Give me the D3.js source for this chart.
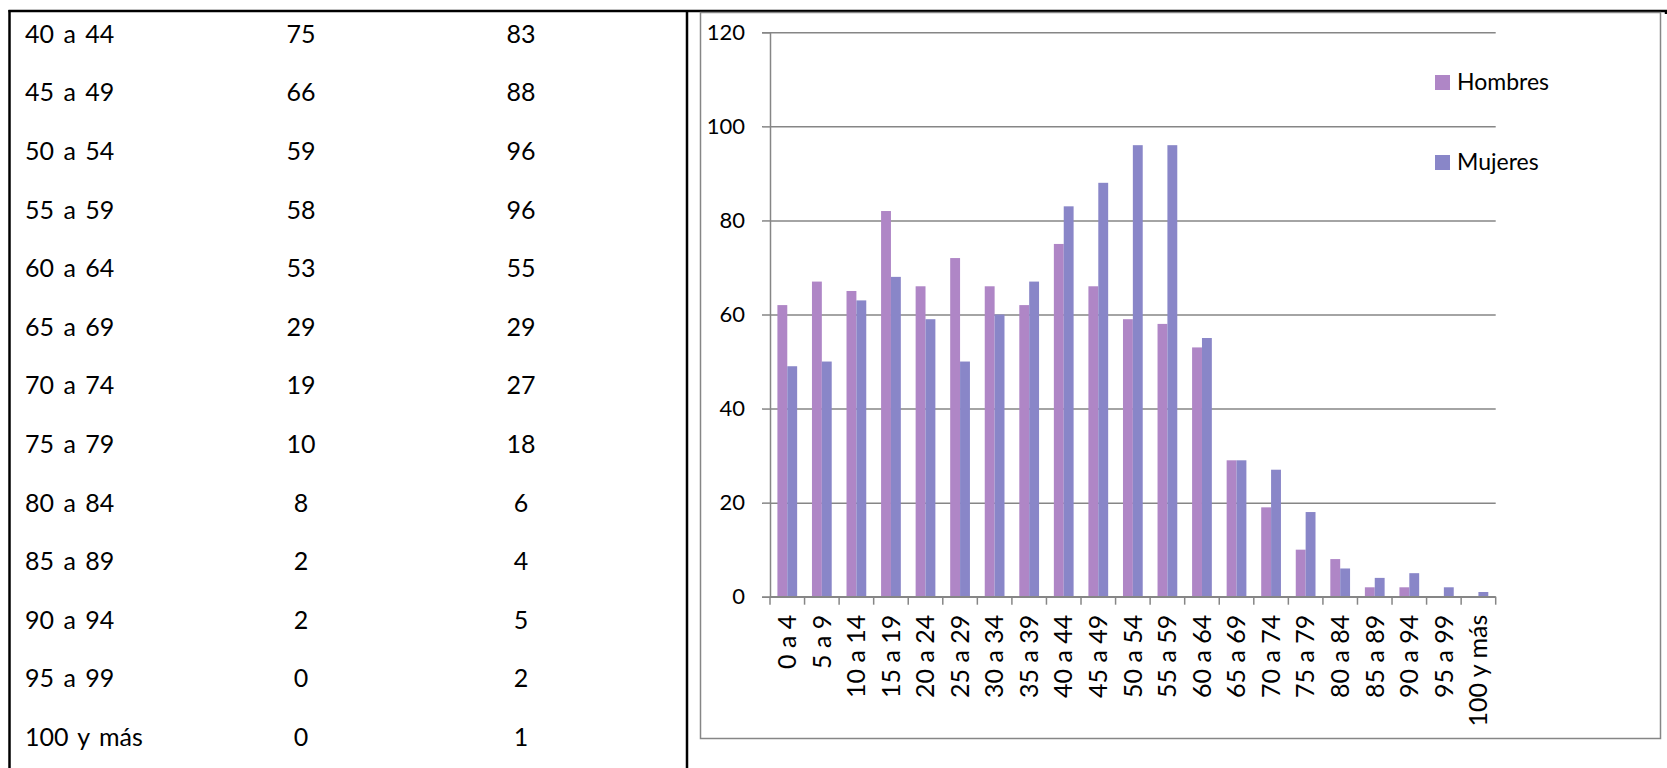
<!DOCTYPE html>
<html>
<head>
<meta charset="utf-8">
<script src="https://cdn.jsdelivr.net/npm/d3@7"></script>
<style>
  body { margin: 0; background: #fff; }
  svg { display: block; font-family: Lato, "Open Sans", sans-serif; }
</style>
</head>
<body>
<div id="chart"></div>
<script>
// grupos de edad y población por sexo
const ageGroups = ["0 a 4", "5 a 9", "10 a 14", "15 a 19", "20 a 24", "25 a 29", "30 a 34",
    "35 a 39", "40 a 44", "45 a 49", "50 a 54", "55 a 59", "60 a 64", "65 a 69", "70 a 74",
    "75 a 79", "80 a 84", "85 a 89", "90 a 94", "95 a 99", "100 y más"];
const hombres = [62, 67, 65, 82, 66, 72, 66, 62, 75, 66, 59, 58, 53, 29, 19, 10, 8, 2, 2, 0, 0];
const mujeres = [49, 50, 63, 68, 59, 50, 60, 67, 83, 88, 96, 96, 55, 29, 27, 18, 6, 4, 5, 2, 1];
const seriesNames = ["Hombres", "Mujeres"];
const yTicks = [0, 20, 40, 60, 80, 100, 120];
// la tabla visible empieza en "40 a 44"
const tableStart = 8;

const COLORS = { Hombres: "#af86c6", Mujeres: "#8986c8" };
const GRID = "#868686";

const width = 1667, height = 768;

const svg = d3.select("#chart").append("svg")
    .attr("width", width)
    .attr("height", height);

// ---- tabla de la izquierda ----
const rowY = i => 34 + i * 58.6;
const tableRows = ageGroups.slice(tableStart).map((g, i) => ({
    label: g,
    h: hombres[tableStart + i],
    m: mujeres[tableStart + i]
}));

const table = svg.append("g").attr("font-size", "25px").attr("fill", "#000");
const rows = table.selectAll("g.row")
    .data(tableRows)
    .enter()
    .append("g")
    .attr("class", "row")
    .attr("transform", (d, i) => `translate(0,${rowY(i)})`);

rows.append("text")
    .attr("x", 25)
    .attr("dy", "0.35em")
    .style("word-spacing", "3px")
    .text(d => d.label);
rows.append("text")
    .attr("x", 301)
    .attr("dy", "0.35em")
    .attr("text-anchor", "middle")
    .text(d => d.h);
rows.append("text")
    .attr("x", 521)
    .attr("dy", "0.35em")
    .attr("text-anchor", "middle")
    .text(d => d.m);

// bordes de la tabla
const borders = svg.append("g").attr("stroke", "#000").attr("stroke-width", 2.5);
borders.append("line").attr("x1", 8.5).attr("x2", width).attr("y1", 11).attr("y2", 11);
borders.append("line").attr("x1", 9.5).attr("x2", 9.5).attr("y1", 10).attr("y2", height);
borders.append("line").attr("x1", 687).attr("x2", 687).attr("y1", 10).attr("y2", height);
borders.append("line").attr("x1", 1666).attr("x2", 1666).attr("y1", 10).attr("y2", 14);

// ---- marco del gráfico ----
svg.append("rect")
    .attr("x", 700.5).attr("y", 12.5)
    .attr("width", 960).attr("height", 726)
    .attr("fill", "none")
    .attr("stroke", GRID)
    .attr("stroke-width", 1.5);

const plot = { left: 770, right: 1495.7, top: 32.3, bottom: 596.7 };

const x = d3.scaleBand()
    .domain(ageGroups)
    .range([plot.left, plot.right])
    .paddingInner(0)
    .paddingOuter(0);

// ancho de separación 150% (estilo Excel)
const bw = x.bandwidth();
const gap = bw * 1.5 / 3.5;
const xSub = d3.scaleBand()
    .domain(seriesNames)
    .range([gap / 2, bw - gap / 2]);

const y = d3.scaleLinear()
    .domain([0, 120])
    .range([plot.bottom, plot.top]);

// líneas de cuadrícula
svg.append("g")
    .attr("transform", `translate(${plot.left},0)`)
    .call(d3.axisLeft(y).tickValues(yTicks).tickSize(-(plot.right - plot.left)).tickFormat(""))
    .call(g => g.select(".domain").remove())
    .call(g => g.selectAll("line").attr("stroke", GRID).attr("stroke-width", 1.5));

// barras
const data = ageGroups.map((g, i) => ({ group: g, Hombres: hombres[i], Mujeres: mujeres[i] }));
svg.append("g")
    .selectAll("g")
    .data(data)
    .enter()
    .append("g")
    .attr("transform", d => `translate(${x(d.group)},0)`)
    .selectAll("rect")
    .data(d => seriesNames.map(s => ({ key: s, value: d[s] })))
    .enter()
    .append("rect")
    .attr("x", d => xSub(d.key))
    .attr("y", d => y(d.value))
    .attr("width", xSub.bandwidth())
    .attr("height", d => y(0) - y(d.value))
    .attr("fill", d => COLORS[d.key]);

// eje Y
svg.append("g")
    .attr("transform", `translate(${plot.left},0)`)
    .call(d3.axisLeft(y).tickValues(yTicks).tickSize(8).tickPadding(17))
    .call(g => g.select(".domain").attr("stroke", GRID).attr("stroke-width", 1.5))
    .call(g => g.selectAll(".tick line").attr("stroke", GRID).attr("stroke-width", 1.5))
    .call(g => g.selectAll("text")
        .attr("font-family", "Lato, sans-serif")
        .attr("font-size", "22px")
        .attr("fill", "#000"));

// eje X: etiquetas en el centro, marcas en los bordes de cada banda
const xAxis = svg.append("g")
    .attr("transform", `translate(0,${plot.bottom})`)
    .call(d3.axisBottom(x).tickSize(0))
    .call(g => g.select(".domain").remove())
    .call(g => g.selectAll("text")
        .attr("transform", "rotate(-90)")
        .attr("x", -18)
        .attr("y", 0)
        .attr("dy", "0.35em")
        .attr("text-anchor", "end")
        .attr("font-family", "Lato, sans-serif")
        .attr("font-size", "25px")
        .attr("fill", "#000"));

const edges = ageGroups.map(g => x(g)).concat([x.range()[1]]);
xAxis.append("line")
    .attr("x1", plot.left).attr("x2", plot.right)
    .attr("stroke", GRID).attr("stroke-width", 1.5);
xAxis.selectAll("line.edge")
    .data(edges)
    .enter()
    .append("line")
    .attr("class", "edge")
    .attr("x1", d => d).attr("x2", d => d)
    .attr("y1", 0).attr("y2", 8)
    .attr("stroke", GRID).attr("stroke-width", 1.5);

// leyenda
const legend = svg.append("g")
    .selectAll("g")
    .data(seriesNames)
    .enter()
    .append("g")
    .attr("transform", (d, i) => `translate(1435,${75 + i * 80})`);
legend.append("rect")
    .attr("width", 15).attr("height", 15)
    .attr("fill", d => COLORS[d]);
legend.append("text")
    .attr("x", 22).attr("y", 15)
    .attr("font-size", "23px")
    .attr("fill", "#000")
    .text(d => d);
</script>
</body>
</html>
